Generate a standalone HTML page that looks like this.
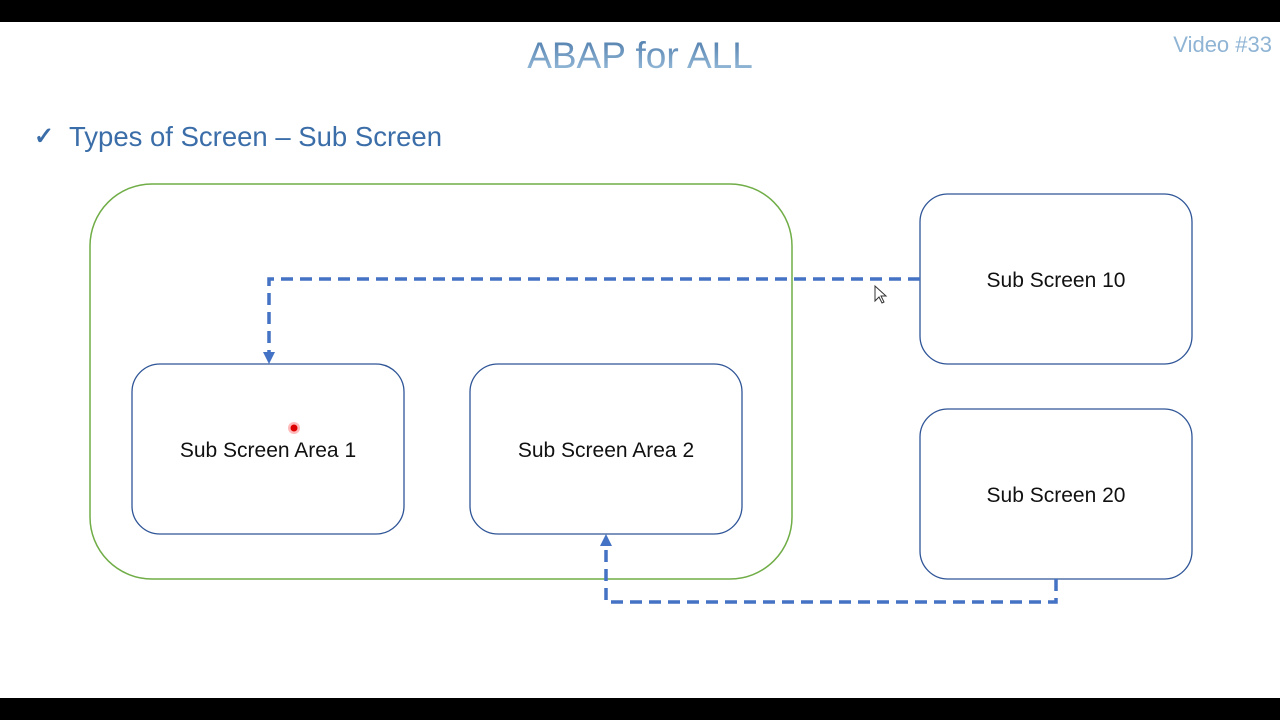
<!DOCTYPE html>
<html><head><meta charset="utf-8"><style>
body{margin:0;width:1280px;height:720px;background:#fff;overflow:hidden;position:relative;font-family:"Liberation Sans",sans-serif}
</style></head><body>
<svg width="1280" height="720" xmlns="http://www.w3.org/2000/svg" style="position:absolute;left:0;top:0">
<defs><linearGradient id="g" x1="0" y1="0" x2="0" y2="1"><stop offset="0" stop-color="#4a78a8"/><stop offset="1" stop-color="#9fc3df"/></linearGradient></defs>
<rect x="0" y="0" width="1280" height="22" fill="#000"/>
<rect x="0" y="698" width="1280" height="22" fill="#000"/>
<text x="640" y="68" text-anchor="middle" font-family="Liberation Sans, sans-serif" font-size="37" fill="url(#g)">ABAP for ALL</text>
<text x="1272" y="52" text-anchor="end" font-size="22" fill="#8fb4d4">Video #33</text>
<text x="34" y="144" font-size="24" font-weight="bold" fill="#3b6ea8">✓</text>
<text x="69" y="146" font-size="27.5" fill="#3b6ea8">Types of Screen – Sub Screen</text>
<rect x="90" y="184" width="702" height="395" rx="62" fill="none" stroke="#70ad47" stroke-width="1.5"/>
<rect x="132" y="364" width="272" height="170" rx="28" fill="none" stroke="#2f5597" stroke-width="1.3"/>
<rect x="470" y="364" width="272" height="170" rx="28" fill="none" stroke="#2f5597" stroke-width="1.3"/>
<rect x="920" y="194" width="272" height="170" rx="28" fill="none" stroke="#2f5597" stroke-width="1.3"/>
<rect x="920" y="409" width="272" height="170" rx="28" fill="none" stroke="#2f5597" stroke-width="1.3"/>
<g font-size="21" fill="#111" text-anchor="middle">
<text x="268" y="457">Sub Screen Area 1</text>
<text x="606" y="457">Sub Screen Area 2</text>
<text x="1056" y="287">Sub Screen 10</text>
<text x="1056" y="502">Sub Screen 20</text>
</g>
<g fill="none" stroke="#4472c4" stroke-width="3.5" stroke-dasharray="12,7">
<path d="M920 279 H269 V352"/>
<path d="M1056 579 V602 H606 V546"/>
</g>
<polygon points="263,352 275,352 269,364" fill="#4472c4"/>
<polygon points="600,546 612,546 606,534" fill="#4472c4"/>
<circle cx="294" cy="428" r="6" fill="#fbb"/>
<circle cx="294" cy="428" r="3.5" fill="#d00"/>
<path d="M875 286 V301 L879 297 L882 303 L884 302 L881 296 L886 296 Z" fill="#fff" stroke="#333" stroke-width="1"/>
</svg>
</body></html>
